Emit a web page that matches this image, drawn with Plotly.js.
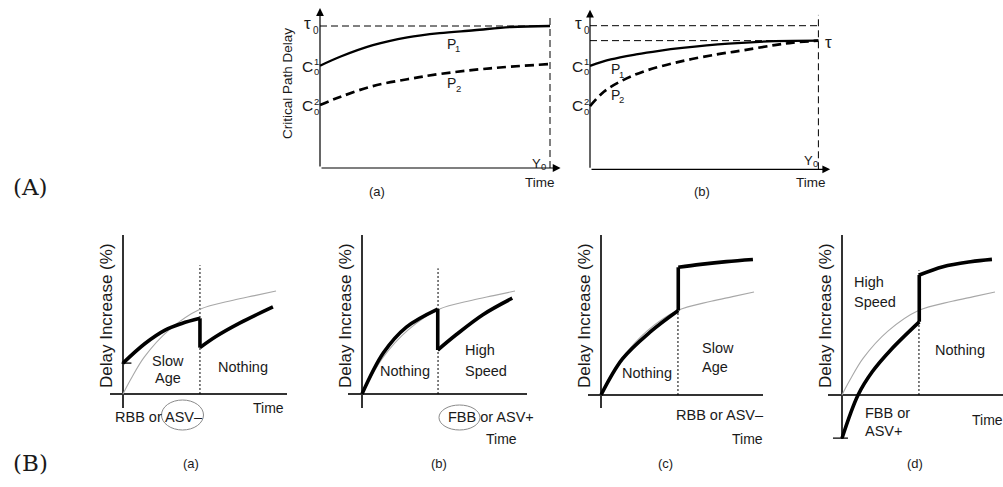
<!DOCTYPE html>
<html><head><meta charset="utf-8">
<script src="https://cdn.plot.ly/plotly-3.0.1.min.js"></script>
<style>html,body{margin:0;padding:0;background:#fff}#chart{width:1003px;height:487px}</style>
</head><body><div id="chart"></div>
<script>
// ---------- DATA (schematic values) ----------
// Top (a): critical path delay vs time
const topA_P1_t = [0, 9, 23, 38, 52, 67, 83, 100];
const topA_P1_d = [72, 78.5, 86.5, 92, 95, 97, 99.3, 100];
const topA_P2_t = [0, 9, 23, 38, 52, 74, 100];
const topA_P2_d = [44.4, 50.2, 57.7, 62.5, 66.2, 70.2, 73.2];
const topA_tau0 = 100, topA_Y0 = 100, topA_top = 107.7;
// Top (b)
const topB_P1_t = [0, 9, 20, 30, 40, 60, 80, 99];
const topB_P1_d = [72, 76.5, 80, 82.5, 84.5, 87.5, 89.2, 89.6];
const topB_P2_t = [0, 6, 13, 23, 39, 55, 67, 80, 88, 99];
const topB_P2_d = [44, 54, 61, 68, 75, 80, 83, 86.5, 88.2, 89.6];
const topB_tau0 = 100, topB_tau = 89.6, topB_Y0 = 99, topB_top = 107.5;

// Bottom: reference (nominal) aging curve, same in all four panels
const ref_t = [0, 5, 14, 30, 50, 72, 86, 100];
const ref_d = [0, 14, 36, 62, 82, 91, 95.5, 100];
// (a) RBB or ASV-
const a1_t = [0, 14.4, 27.5, 38.4, 50.3], a1_d = [30, 49, 62, 68.5, 73.5];
const a2_t = [50.3, 61, 76.5, 98],        a2_d = [45, 56, 69, 84.5];
const aTick_t = [-1, 5.5], aTick_d = [30, 30];
const aDot_t = [50.3, 50.3], aDot_d = [0, 125];
// (b) FBB or ASV+
const b1_t = [0, 14, 29, 49.5],          b1_d = [0, 40, 65, 82.5];
const b2_t = [49.5, 61.5, 79, 98.2],     b2_d = [42.7, 57.5, 77, 93];
const bDot_t = [49.7, 49.7], bDot_d = [0, 122];
// (c) RBB or ASV-
const c1_t = [0, 14, 32, 50.5],          c1_d = [0, 35, 61, 82];
const c2_t = [50.5, 65, 82, 99.3],       c2_d = [124, 126.8, 129.5, 131.5];
const cDot_t = [50.3, 50.3], cDot_d = [0, 81];
// (d) FBB or ASV+
const d1_t = [0, 10.5, 20, 32, 50.5],    d1_d = [-42, 0, 23, 44, 71];
const d2_t = [50.5, 66, 84, 98],          d2_d = [116.5, 124.6, 129.4, 131.7];
const dTick_t = [-5.9, 3.9], dTick_d = [-42, -42];
const dDot_t = [50.3, 50.3], dDot_d = [0, 121];

// ---------- LAYOUT HELPERS ----------
const W = 1003, H = 487;
const FONT = 'Liberation Sans, Arial, Helvetica, sans-serif';
const SERIF = 'DejaVu Serif, Liberation Serif, serif';
const layout = {
  width: W, height: H, margin: {l: 0, r: 0, t: 0, b: 0},
  paper_bgcolor: '#fff', plot_bgcolor: 'rgba(0,0,0,0)',
  showlegend: false, annotations: [], shapes: []
};
// panel: origin in pixels, pixel per unit, data ranges
function panel(n, ox, oy, sx, sy, xr, yr, zl, zlcolor) {
  const xs = n === 1 ? 'xaxis' : 'xaxis' + n, ys = n === 1 ? 'yaxis' : 'yaxis' + n;
  const id = n === 1 ? '' : String(n);
  const x0 = ox + xr[0] * sx, x1 = ox + xr[1] * sx;
  const yb = oy - yr[0] * sy, yt = oy - yr[1] * sy;
  const common = {showgrid: false, showticklabels: false, ticks: '', showline: false,
                  zeroline: zl, zerolinecolor: zlcolor, zerolinewidth: 1.3, fixedrange: true};
  layout[xs] = Object.assign({}, common, {domain: [x0 / W, x1 / W], range: xr, anchor: 'y' + id});
  layout[ys] = Object.assign({}, common, {domain: [(H - yb) / H, (H - yt) / H], range: yr, anchor: 'x' + id});
  return {xaxis: 'x' + id, yaxis: 'y' + id};
}
const PA = panel(1, 320, 168, 2.3, 1.42, [-1, 105], [-1, 113], false, '#000');
const PB = panel(2, 590, 169.3, 2.307, 1.436, [-1, 104.5], [-1, 111.5], false, '#000');
const sx = 1.53, sy = 1.03;
const Pa = panel(3, 123, 394, sx, sy, [-8.5, 107.2], [-13.6, 154.4], true, '#333');
const Pb = panel(4, 362, 394, sx, sy, [-9.2, 107.8], [-13.6, 154.4], true, '#333');
const Pc = panel(5, 601, 395, sx, sy, [-8.5, 105.9], [-12.6, 155.3], true, '#333');
const Pd = panel(6, 842, 395, sx, sy, [-9.2, 105.2], [-42.5, 155.3], true, '#333');

const traces = [];
function line(P, x, y, opt) {
  traces.push(Object.assign({type: 'scatter', mode: 'lines', x: x, y: y, hoverinfo: 'skip',
    xaxis: P.xaxis, yaxis: P.yaxis, line: Object.assign({color: '#000', width: 1}, opt)}));
}
// ---------- TOP PANELS ----------
function topPanel(P, tau0, Y0, top, p1t, p1d, p2t, p2d, tau) {
  line(P, [0, Y0], [tau0, tau0], {width: 1, dash: '7px,4px'});
  if (tau !== undefined) line(P, [0, Y0], [tau, tau], {width: 1, dash: '7px,4px'});
  line(P, [Y0, Y0], [0, top], {width: 1, dash: '7px,4px'});
  line(P, p1t, p1d, {width: 2.3, shape: 'spline'});
  line(P, p2t, p2d, {width: 2.7, shape: 'spline', dash: '9px,5px'});
  const ax = P.xaxis, ay = P.yaxis;
  const rx = layout[ax === 'x' ? 'xaxis' : 'xaxis' + ax.slice(1)].range;
  const ry = layout[ay === 'y' ? 'yaxis' : 'yaxis' + ay.slice(1)].range;
  const arrow = (x, y) => ({xref: ax, yref: ay, axref: ax, ayref: ay, x: x, y: y, ax: 0, ay: 0,
    text: '', showarrow: true, arrowhead: 2, arrowsize: 1.3, arrowwidth: 1.2, arrowcolor: '#000', standoff: 0, startstandoff: 0});
  layout.annotations.push(arrow(rx[1] - 0.4, 0), arrow(0, ry[1] - 0.4));
}
topPanel(PA, topA_tau0, topA_Y0, topA_top, topA_P1_t, topA_P1_d, topA_P2_t, topA_P2_d);
topPanel(PB, topB_tau0, topB_Y0, topB_top, topB_P1_t, topB_P1_d, topB_P2_t, topB_P2_d, topB_tau);

// ---------- BOTTOM PANELS ----------
const GRAY = {color: '#a8a8a8', width: 1.1, shape: 'spline'};
const THICK = {color: '#000', width: 3.6, shape: 'spline'};
const JUMP = {color: '#000', width: 3.6};
const DOT = {color: '#000', width: 1, dash: '2px,2px'};
function bottom(P, dt, dd, s1t, s1d, s2t, s2d, tick) {
  line(P, dt, dd, DOT);
  line(P, ref_t, ref_d, GRAY);
  line(P, s1t, s1d, THICK);
  line(P, [s1t[s1t.length - 1], s2t[0]], [s1d[s1d.length - 1], s2d[0]], JUMP);
  line(P, s2t, s2d, THICK);
  if (tick) line(P, tick[0], tick[1], {color: '#000', width: 1.3});
}
bottom(Pa, aDot_t, aDot_d, a1_t, a1_d, a2_t, a2_d, [aTick_t, aTick_d]);
bottom(Pb, bDot_t, bDot_d, b1_t, b1_d, b2_t, b2_d);
bottom(Pc, cDot_t, cDot_d, c1_t, c1_d, c2_t, c2_d);
bottom(Pd, dDot_t, dDot_d, d1_t, d1_d, d2_t, d2_d, [dTick_t, dTick_d]);

// ---------- TEXT ----------
function T(px, py, text, size, o) {
  o = o || {};
  layout.annotations.push({xref: 'paper', yref: 'paper', x: px / W, y: 1 - py / H, text: text,
    showarrow: false, xanchor: o.xa || 'center', yanchor: 'middle', textangle: o.rot || 0,
    font: {family: o.fam || FONT, size: size, color: o.color || '#1a1a1a'}});
}
function E(x0, y0, x1, y1) {
  layout.shapes.push({type: 'circle', xref: 'paper', yref: 'paper', x0: x0 / W, x1: x1 / W,
    y0: 1 - y1 / H, y1: 1 - y0 / H, line: {color: '#8a8a8a', width: 1}});
}
// panel labels
T(30, 187, '(A)', 23, {fam: SERIF});
T(30, 463, '(B)', 23, {fam: SERIF});
// top (a)
T(287, 84, 'Critical Path Delay', 13.5, {rot: -90});
T(307, 24, 'τ', 17); T(316, 30, '0', 10);
T(307.5, 66, 'C', 15.5); T(316.5, 61.5, '1', 9.5); T(316.5, 71.5, '0', 9.5);
T(307.5, 105.5, 'C', 15.5); T(316.5, 101, '2', 9.5); T(316.5, 111, '0', 9.5);
T(451, 44, 'P', 14); T(457.5, 49, '1', 9.5);
T(451, 82.5, 'P', 14); T(458, 88, '2', 9.5);
T(536, 163, 'Y', 13); T(543.5, 166, '0', 9.5);
T(540, 182, 'Time', 13.5);
T(376.5, 191, '(a)', 13);
// top (b)
T(578, 24, 'τ', 17); T(586.5, 30, '0', 10);
T(577.5, 66, 'C', 15.5); T(586.5, 61.5, '1', 9.5); T(586.5, 71.5, '0', 9.5);
T(577.5, 105.5, 'C', 15.5); T(586.5, 101, '2', 9.5); T(586.5, 111, '0', 9.5);
T(615, 69, 'P', 14); T(621, 74, '1', 9.5);
T(615, 95, 'P', 14); T(621.5, 100, '2', 9.5);
T(828, 42, 'τ', 17);
T(808, 160, 'Y', 13); T(815.5, 163, '0', 9.5);
T(811, 182, 'Time', 13.5);
T(701.5, 191, '(b)', 13);
// bottom (a)
T(106, 316, 'Delay Increase (%)', 17, {rot: -90});
T(168, 361, 'Slow', 14.5); T(167.5, 378, 'Age', 14.5);
T(243, 367, 'Nothing', 14.5);
T(268, 408, 'Time', 14);
T(159, 417, 'RBB or ASV–', 14.5);
E(161.5, 400, 203.5, 430);
T(191, 463, '(a)', 13);
// bottom (b)
T(345, 316, 'Delay Increase (%)', 17, {rot: -90});
T(405, 371, 'Nothing', 14.5);
T(463, 350, 'High', 14.5, {xa: 'left'}); T(463, 371, 'Speed', 14.5, {xa: 'left'});
T(491, 417, 'FBB or ASV+', 14.5);
E(439, 405, 480, 430);
T(501.5, 439, 'Time', 14);
T(438.5, 463, '(b)', 13);
// bottom (c)
T(584, 316, 'Delay Increase (%)', 17, {rot: -90});
T(646.5, 373, 'Nothing', 14.5);
T(700, 347.5, 'Slow', 14.5, {xa: 'left'}); T(700, 367, 'Age', 14.5, {xa: 'left'});
T(720, 415, 'RBB or ASV–', 14.5);
T(747.5, 439, 'Time', 14);
T(665, 463, '(c)', 13);
// bottom (d)
T(825, 316, 'Delay Increase (%)', 17, {rot: -90});
T(852, 282, 'High', 14.5, {xa: 'left'}); T(852, 302, 'Speed', 14.5, {xa: 'left'});
T(960, 350, 'Nothing', 14.5);
T(863, 413, 'FBB or', 14.5, {xa: 'left'}); T(863, 431, 'ASV+', 14.5, {xa: 'left'});
T(970, 420, 'Time', 14, {xa: 'left'});
T(915, 463, '(d)', 13);

Plotly.newPlot('chart', traces, layout, {staticPlot: true, displayModeBar: false});
</script></body></html>
